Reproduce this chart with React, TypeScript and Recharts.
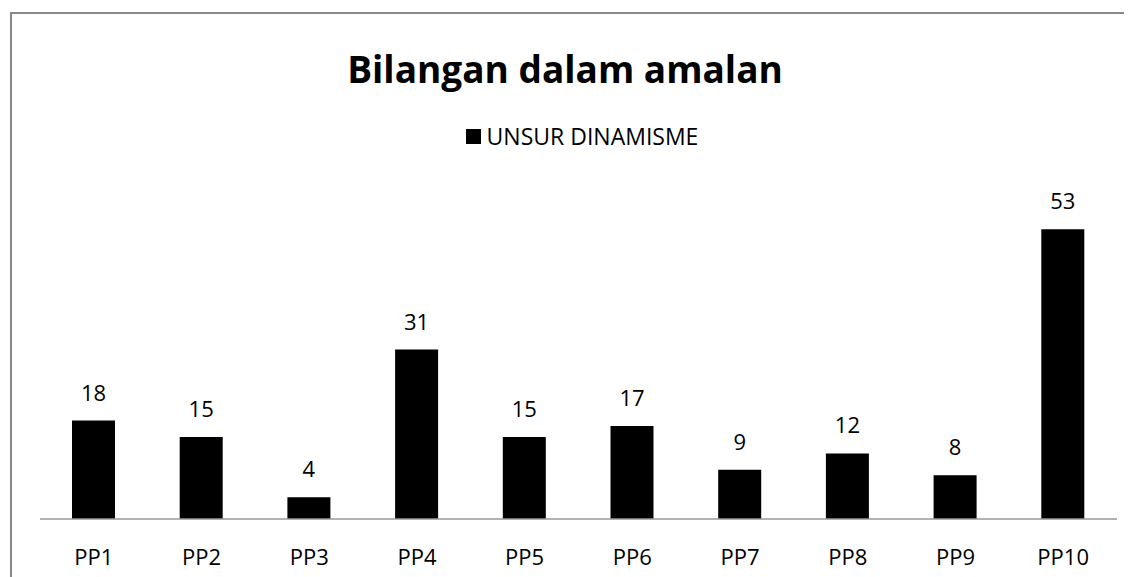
import React from "react";
import { BarChart, Bar, XAxis, YAxis, LabelList } from "recharts";

const categories = ["PP1", "PP2", "PP3", "PP4", "PP5", "PP6", "PP7", "PP8", "PP9", "PP10"];
const values = [18, 15, 4, 31, 15, 17, 9, 12, 8, 53];
const seriesName = "UNSUR DINAMISME";
const title = "Bilangan dalam amalan";

const data = categories.map((c, i) => ({ name: c, value: values[i] }));

const FONT = "'Open Sans', 'Noto Sans', sans-serif";

const Tick = (props: any) => {
  const { x, y, payload } = props;
  return (
    <text x={x} y={y + 46} textAnchor="middle" fontSize={22} fill="#000" fontFamily={FONT}>
      {payload.value}
    </text>
  );
};

export default function App() {
  return (
    <div style={{ position: "relative", width: 1124, height: 569, fontFamily: FONT }}>
      <div
        style={{
          position: "absolute",
          left: 2,
          top: 4,
          width: 1140,
          height: 600,
          borderLeft: "2px solid #888",
          borderTop: "2px solid #888",
          boxSizing: "border-box",
        }}
      />
      <div
        style={{
          position: "absolute",
          left: 0,
          width: 1114,
          top: 36,
          textAlign: "center",
          fontSize: 37,
          fontWeight: 700,
          color: "#000",
          lineHeight: "50px",
        }}
      >
        {title}
      </div>
      <div
        style={{
          position: "absolute",
          left: 12,
          width: 1124,
          top: 113,
          display: "flex",
          justifyContent: "center",
          alignItems: "center",
          fontSize: 23,
          color: "#000",
          lineHeight: "30px",
        }}
      >
        <span style={{ display: "inline-block", width: 15, height: 15, background: "#000", marginRight: 6 }} />
        <span>{seriesName}</span>
      </div>
      <div style={{ position: "absolute", left: 0, top: 0 }}>
        <BarChart
          width={1124}
          height={569}
          data={data}
          margin={{ top: 183, right: 15, left: 32, bottom: 28 }}
          barCategoryGap="30%"
        >
          <XAxis
            dataKey="name"
            height={30}
            axisLine={{ stroke: "#999", strokeWidth: 1.5 }}
            tickLine={false}
            tickSize={0}
            tickMargin={0}
            tick={<Tick />}
            interval={0}
          />
          <YAxis hide domain={[0, 60]} />
          <Bar dataKey="value" fill="#000" isAnimationActive={false} barSize={43}>
            <LabelList
              dataKey="value"
              position="top"
              offset={20}
              fontSize={22}
              fill="#000"
              fontFamily={FONT}
            />
          </Bar>
        </BarChart>
      </div>
    </div>
  );
}
